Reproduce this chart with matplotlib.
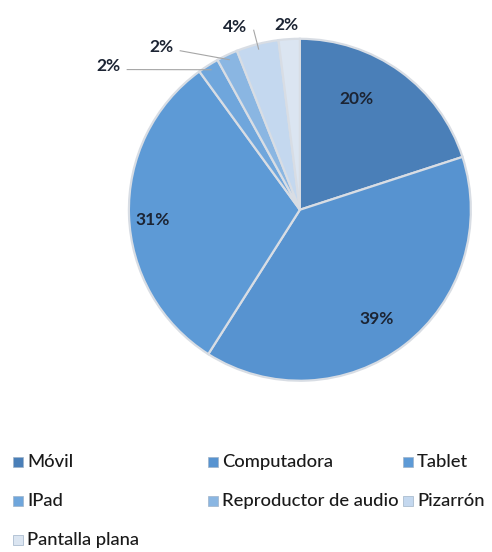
import numpy as np
import matplotlib
matplotlib.use('Agg')
import matplotlib.pyplot as plt
from matplotlib.patches import Rectangle

plt.rcParams['font.family'] = ['Lato', 'DejaVu Sans']

categories = ['Móvil', 'Computadora', 'Tablet', 'IPad',
              'Reproductor de audio', 'Pizarrón', 'Pantalla plana']
values = [20, 39, 31, 2, 2, 4, 2]
labels = ['20%', '39%', '31%', '2%', '2%', '4%', '2%']
colors = ['#4a7fb8', '#5793d0', '#5d9ad6', '#6fa6dc',
          '#8ab6e2', '#c4d8ef', '#dbe5f1']

# label positions in pie units (radius = 1)
label_pos = [(0.33, 0.65), (0.45, -0.64), (-0.86, -0.06),
             (-1.12, 0.84), (-0.81, 0.95), (-0.38, 1.07), (-0.08, 1.08)]
leader = [False, False, False, True, True, True, False]

fig = plt.figure(figsize=(4.92, 5.52), dpi=100)
ax = fig.add_axes([0.262, 0.31, 0.695, 0.62])
wedges, _ = ax.pie(values, colors=colors, startangle=90, counterclock=False,
                   wedgeprops=dict(edgecolor='#d8dde4', linewidth=1.6))
ax.set_xlim(-1, 1)
ax.set_ylim(-1, 1)
ax.set_aspect('equal')
ax.axis('off')

for w, lab, pos, ld in zip(wedges, labels, label_pos, leader):
    ax.text(pos[0], pos[1], lab, ha='center', va='center', fontsize=12.5,
            fontweight='bold', color='#1c2433', clip_on=False)
    if ld:
        ang = np.deg2rad((w.theta1 + w.theta2) / 2)
        ex, ey = np.cos(ang) * 0.97, np.sin(ang) * 0.97
        ax.plot([pos[0] + 0.11, ex], [pos[1] - 0.02, ey], color='#a6a6a6',
                lw=0.8, clip_on=False)

# legend laid out like the original (3 columns, row-major)
leg_x = [13, 208, 403, 13, 208, 403, 13]
leg_y = [462, 462, 462, 501, 501, 501, 540]
W, H = 492, 552
for name, c, x, y in zip(categories, colors, leg_x, leg_y):
    fig.patches.append(Rectangle((x / W, (H - y - 5) / H), 10 / W, 10 / H,
                                 transform=fig.transFigure, facecolor=c,
                                 edgecolor='#9fb3c8', lw=0.5))
    fig.text((x + 14) / W, (H - y) / H, name, ha='left', va='center',
             fontsize=13.2, fontweight='medium', color='#1a1a1a')

fig.savefig('out.png', dpi=100)
